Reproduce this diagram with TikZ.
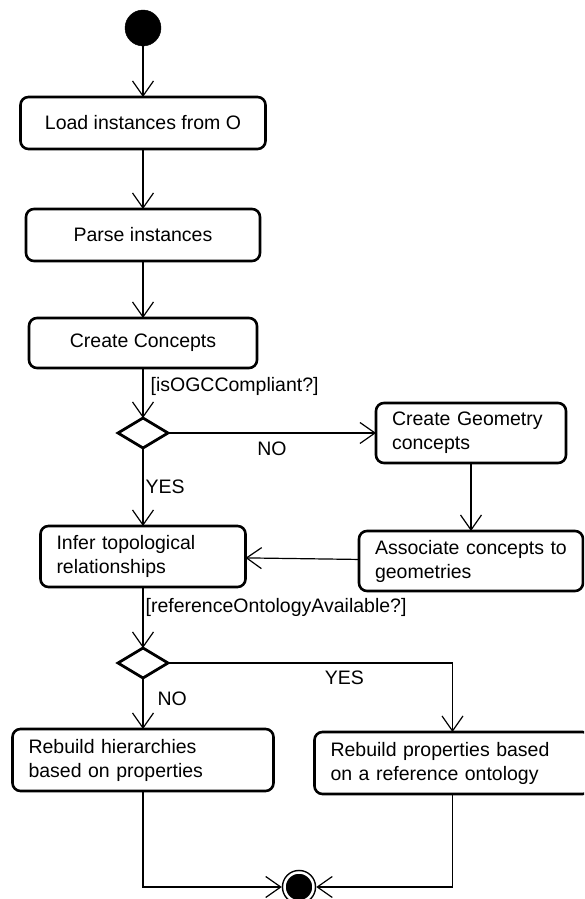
\documentclass[tikz,border=0pt]{standalone}
\usepackage{fontspec}
\setmainfont{Liberation Sans}
\usetikzlibrary{shapes,arrows.meta,calc,positioning}

\begin{document}
\begin{tikzpicture}[x=1pt, y=1pt,
  every node/.style={font=\fontsize{19.5}{24}\selectfont},
  action/.style={draw=black, rounded corners=8pt, line width=2.6pt, inner sep=0pt, outer sep=0pt, minimum height=52pt, align=center},
  twoline/.style={action, align=left, inner xsep=16pt, text width=#1, minimum height=61pt},
  decision/.style={diamond, draw=black, line width=2.8pt, minimum width=50pt, minimum height=30pt, inner sep=0pt, outer sep=0pt},
  flow/.style={line width=1.2pt, -{Straight Barb[length=15pt, width=21pt]}},
  guard/.style={inner sep=2pt}]
  \useasboundingbox (0,0) rectangle (584,899);
  \clip (0,0) rectangle (584,899);

  \node[circle, draw=black, fill=black, minimum size=36pt, inner sep=0pt, outer sep=0pt] (start) at (143,871) {};
  \node[action, minimum width=245pt, below=51pt of start] (load) {Load instances from O};
  \node[action, minimum width=234pt, below=60pt of load] (parse) {Parse instances};
  \node[action, minimum width=228pt, minimum height=50pt, below=57pt of parse] (create) {Create Concepts};
  \node[decision, below=50pt of create] (dec1) {};
  \node[twoline=173pt, below=78pt of dec1] (infer) {Infer topological\\relationships};
  \node[twoline=158pt, minimum height=60pt, right=208pt of dec1] (geom) {Create Geometry\\concepts};
  \node[twoline=192pt, minimum height=60pt, below=68pt of geom] (assoc) {Associate concepts to\\geometries};
  \node[decision, below=61pt of infer] (dec2) {};
  \node[twoline=229pt, minimum height=62pt, below=51pt of dec2] (hier) {Rebuild hierarchies\\based on properties};
  \node[twoline=244pt, minimum height=62pt, right=41pt of hier, yshift=-3pt] (prop) {Rebuild properties based\\on a reference ontology};
  \node[circle, draw=black, fill=black, double=white, double distance=2.5pt, line width=1.5pt, minimum size=29pt, inner sep=0pt, outer sep=2.75pt] (end) at (299,12) {};

  \draw[flow] (start) -- (load);
  \draw[flow] (load) -- (parse);
  \draw[flow] (parse) -- (create);
  \draw[flow] (create) -- node[guard, right, pos=.36, xshift=5pt] {[isOGCCompliant?]} (dec1);
  \draw[flow] (dec1) -- node[guard, below=6pt] {NO} (geom);
  \draw[flow] (dec1) -- node[guard, right] {YES} (infer);
  \draw[flow] (geom) -- (assoc);
  \draw[flow] (assoc) -- (infer);
  \draw[flow] (infer) -- node[guard, right, pos=.34] {[referenceOntologyAvailable?]} (dec2);
  \draw[flow] (dec2) -- node[guard, right, pos=.41, xshift=12pt] {NO} (hier);
  \draw[flow] (dec2.east) -| node[guard, below=5pt, pos=.31] {YES} (prop.north);
  \draw[flow] (hier.south) |- (end.west);
  \draw[flow] (prop.south) |- (end.east);
\end{tikzpicture}
\end{document}
